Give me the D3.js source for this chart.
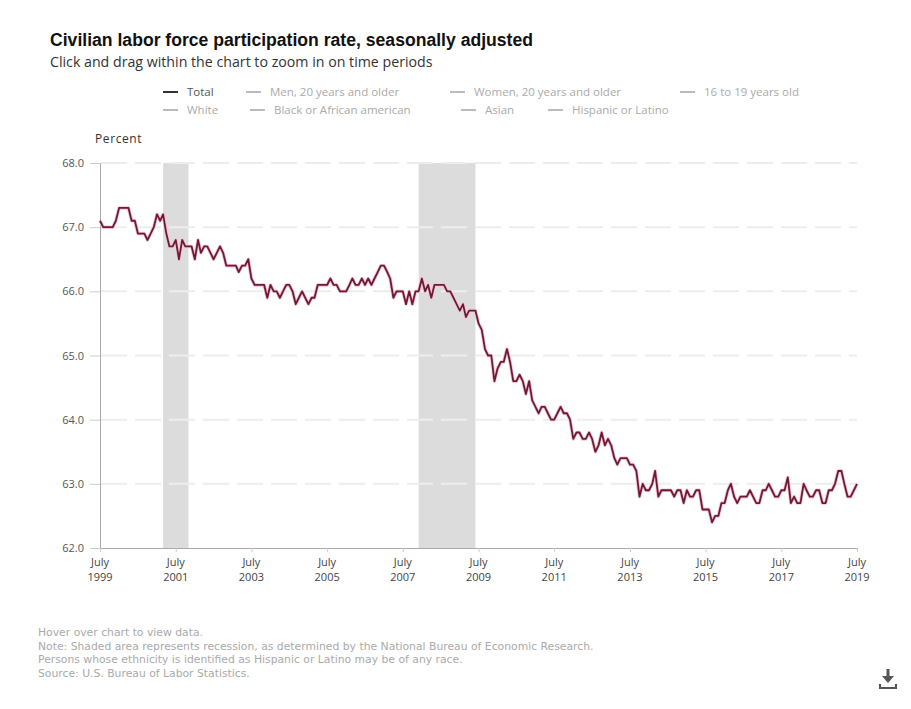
<!DOCTYPE html>
<html><head><meta charset="utf-8">
<script src="https://cdn.jsdelivr.net/npm/d3@7/dist/d3.min.js"></script>
<style>
html,body{margin:0;padding:0;background:#fff;}
svg{display:block;}
</style></head>
<body>
<script>
// ---- data ----
const startMonth = "1999-07";
const rate = [
 67.1,67.0,67.0,67.0,67.0,67.1,
 67.3,67.3,67.3,67.3,67.1,67.1,66.9,66.9,66.9,66.8,66.9,67.0,
 67.2,67.1,67.2,66.9,66.7,66.7,66.8,66.5,66.8,66.7,66.7,66.7,
 66.5,66.8,66.6,66.7,66.7,66.6,66.5,66.6,66.7,66.6,66.4,66.4,
 66.4,66.4,66.3,66.4,66.4,66.5,66.2,66.1,66.1,66.1,66.1,65.9,
 66.1,66.0,66.0,65.9,66.0,66.1,66.1,66.0,65.8,65.9,66.0,65.9,
 65.8,65.9,65.9,66.1,66.1,66.1,66.1,66.2,66.1,66.1,66.0,66.0,
 66.0,66.1,66.2,66.1,66.1,66.2,66.1,66.2,66.1,66.2,66.3,66.4,
 66.4,66.3,66.2,65.9,66.0,66.0,66.0,65.8,66.0,65.8,66.0,66.0,
 66.2,66.0,66.1,65.9,66.1,66.1,66.1,66.1,66.0,66.0,65.9,65.8,
 65.7,65.8,65.6,65.7,65.7,65.7,65.5,65.4,65.1,65.0,65.0,64.6,
 64.8,64.9,64.9,65.1,64.9,64.6,64.6,64.7,64.6,64.4,64.6,64.3,
 64.2,64.1,64.2,64.2,64.1,64.0,64.0,64.1,64.2,64.1,64.1,64.0,
 63.7,63.8,63.8,63.7,63.7,63.8,63.7,63.5,63.6,63.8,63.6,63.7,
 63.6,63.4,63.3,63.4,63.4,63.4,63.3,63.3,63.2,62.8,63.0,62.9,
 62.9,63.0,63.2,62.8,62.9,62.9,62.9,62.9,62.8,62.9,62.9,62.7,
 62.9,62.8,62.8,62.9,62.9,62.6,62.6,62.6,62.4,62.5,62.5,62.7,
 62.7,62.9,63.0,62.8,62.7,62.8,62.8,62.8,62.9,62.8,62.7,62.7,
 62.9,62.9,63.0,62.9,62.8,62.8,62.9,62.9,63.1,62.7,62.8,62.7,
 62.7,63.0,62.9,62.8,62.8,62.9,62.9,62.7,62.7,62.9,62.9,63.0,
 63.2,63.2,63.0,62.8,62.8,62.9,63.0
];
const recessions = [["2001-03","2001-11"],["2007-12","2009-06"]];
const yTicks = [62,63,64,65,66,67,68];
const xTickMonths = ["1999-07","2001-07","2003-07","2005-07","2007-07","2009-07","2011-07","2013-07","2015-07","2017-07","2019-07"];
const legendRow1 = ["Total","Men, 20 years and older","Women, 20 years and older","16 to 19 years old"];
const legendRow2 = ["White","Black or African american","Asian","Hispanic or Latino"];
const notes = [
 "Hover over chart to view data.",
 "Note: Shaded area represents recession, as determined by the National Bureau of Economic Research.",
 "Persons whose ethnicity is identified as Hispanic or Latino may be of any race.",
 "Source: U.S. Bureau of Labor Statistics."
];

// ---- drawing ----
const W = 911, H = 709;
const parse = d3.timeParse("%Y-%m");
const start = parse(startMonth);
const series = rate.map((v,i)=>({date:d3.timeMonth.offset(start,i), value:v}));

const svg = d3.select("body").append("svg").attr("width",W).attr("height",H)
  .style("font-family","'Open Sans', 'Liberation Sans', Arial, sans-serif");

const x = d3.scaleTime().domain([parse("1999-07"), parse("2019-07")]).range([100, 857]);
const y = d3.scaleLinear().domain([62,68]).range([548,163]);

// titles
svg.append("text").attr("x",50).attr("y",46)
  .style("font-family","'Liberation Sans', Arial, sans-serif")
  .style("font-weight","bold").style("font-size","17.6px").attr("fill","#111")
  .text("Civilian labor force participation rate, seasonally adjusted");
svg.append("text").attr("x",50).attr("y",67)
  .style("font-size","14.2px").attr("fill","#333")
  .text("Click and drag within the chart to zoom in on time periods");

// legend
const legX1 = [163,246,450,680];
const legX2 = [163,250,461,548];
function legend(items, xs, yy){
  items.forEach((t,i)=>{
    const g = svg.append("g");
    g.append("line").attr("x1",xs[i]).attr("x2",xs[i]+15).attr("y1",yy).attr("y2",yy)
      .attr("stroke", t==="Total" ? "#333" : "#bbb").attr("stroke-width",2);
    g.append("text").attr("x",xs[i]+24).attr("y",yy+4).style("font-size","11.5px")
      .attr("fill", t==="Total" ? "#555" : "#aaa").text(t);
  });
}
legend(legendRow1, legX1, 92);
legend(legendRow2, legX2, 110);

// recessions
svg.append("g").selectAll("rect").data(recessions).join("rect")
  .attr("x",d=>x(parse(d[0]))).attr("width",d=>x(parse(d[1]))-x(parse(d[0])))
  .attr("y",y(68)).attr("height",y(62)-y(68)).attr("fill","#dcdcdc");

// grid
svg.append("g").selectAll("line").data(yTicks.filter(d=>d>62)).join("line")
  .attr("x1",101).attr("x2",857).attr("y1",d=>y(d)).attr("y2",d=>y(d))
  .attr("stroke","#ededed").attr("stroke-width",2).attr("stroke-dasharray","26,8");

// y axis
const yAxis = svg.append("g").attr("transform","translate(100,0)")
  .call(d3.axisLeft(y).tickValues(yTicks).tickFormat(d3.format(".1f")).tickSize(10).tickPadding(6));
yAxis.select(".domain").attr("stroke","#aaa");
yAxis.selectAll(".tick line").attr("stroke","#ccc");
yAxis.selectAll("text").attr("fill","#555").style("font-size","11px")
  .style("font-family","'Open Sans', sans-serif");

svg.append("text").attr("x",95).attr("y",143).style("font-size","12px").attr("fill","#333")
  .style("letter-spacing","0.6px").text("Percent");

// x axis
const xAxis = svg.append("g").attr("transform","translate(0,548)")
  .call(d3.axisBottom(x).tickValues(xTickMonths.map(parse)).tickSize(4).tickFormat(""));
xAxis.select(".domain").attr("stroke","#aaa");
xAxis.selectAll(".tick line").attr("stroke","#ccc");
const xl = svg.append("g").selectAll("text").data(xTickMonths.map(parse)).join("text")
  .attr("x",d=>x(d)).attr("y",566).attr("text-anchor","middle")
  .style("font-size","11px").attr("fill","#444");
xl.append("tspan").attr("x",d=>x(d)).attr("dy",0).text("July");
xl.append("tspan").attr("x",d=>x(d)).attr("dy",15).text(d=>d3.timeFormat("%Y")(d));

// line
const line = d3.line().x(d=>x(d.date)).y(d=>y(d.value));
svg.append("path").datum(series).attr("d",line).attr("fill","none")
  .attr("stroke","#f2c4d0").attr("stroke-width",3.5).attr("stroke-linejoin","round");
svg.append("path").datum(series).attr("d",line).attr("fill","none")
  .attr("stroke","#6e1a36").attr("stroke-width",1.8).attr("stroke-linejoin","round");

// notes
svg.append("g").selectAll("text").data(notes).join("text")
  .attr("x",38).attr("y",(d,i)=>636+i*13.5)
  .style("font-family","'DejaVu Sans', Verdana, sans-serif")
  .style("font-size","10.8px").attr("fill","#aaa").text(d=>d);

// download icon
const ic = svg.append("g").attr("transform","translate(888,680)").attr("fill","#555").attr("stroke","#555");
ic.append("line").attr("x1",0).attr("x2",0).attr("y1",-11).attr("y2",-3).attr("stroke-width",3);
ic.append("path").attr("d","M-6,-4 L6,-4 L0,3 Z").attr("stroke","none");
ic.append("path").attr("d","M-8,4 L-8,8 L8,8 L8,4").attr("fill","none").attr("stroke-width",2);
</script>
</body></html>
